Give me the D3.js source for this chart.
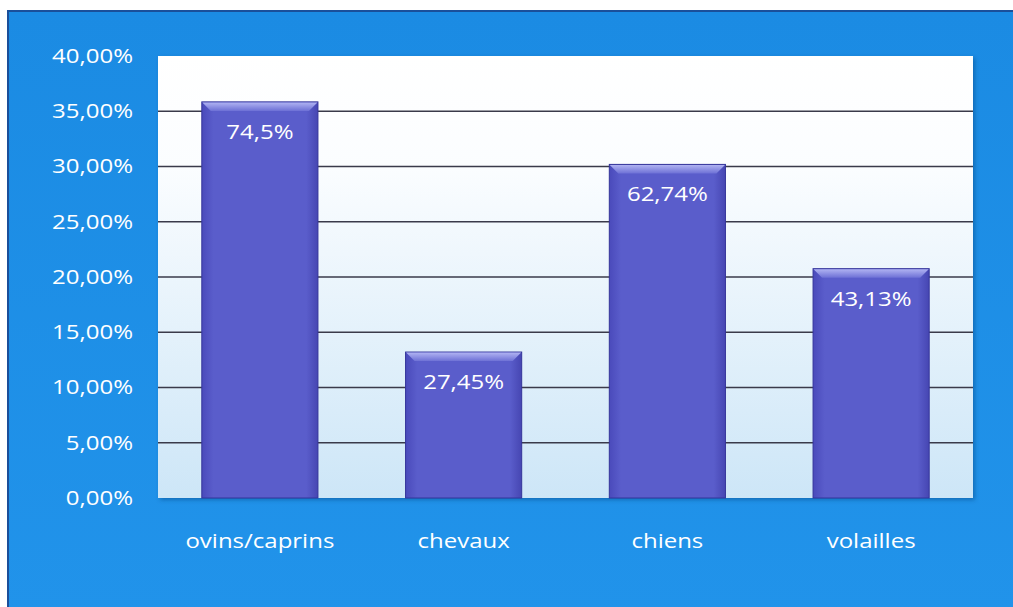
<!DOCTYPE html>
<html>
<head>
<meta charset="utf-8">
<script src="https://cdn.jsdelivr.net/npm/d3@7"></script>
<style>
  html, body { margin: 0; padding: 0; background: #ffffff; }
  svg { display: block; }
</style>
</head>
<body>
<svg id="chart" width="1013" height="607"></svg>
<script>
// Species and the positive rate found in each one
const categories = ["ovins/caprins", "chevaux", "chiens", "volailles"];
const rates = [74.5, 27.45, 62.74, 43.13];
const rateLabels = ["74,5%", "27,45%", "62,74%", "43,13%"];
const yTicks = [0, 5, 10, 15, 20, 25, 30, 35, 40];

// Each bar shows the species' share of the summed rates
const total = d3.sum(rates);
const shares = rates.map(v => v / total * 100);

const W = 1013, H = 607;
const plot = { left: 158, top: 56, right: 973, bottom: 498 };
const FONT = "'Open Sans', Lato, sans-serif";
const FS = 20;       // font size
const SX = 1.2;      // horizontal stretch of the lettering

const svg = d3.select("#chart");
const defs = svg.append("defs");

// Background panel
const bgGrad = defs.append("linearGradient").attr("id", "bg").attr("x1", 0).attr("y1", 0).attr("x2", 0).attr("y2", 1);
bgGrad.append("stop").attr("offset", "0%").attr("stop-color", "#1b8be3");
bgGrad.append("stop").attr("offset", "100%").attr("stop-color", "#2193ea");

const plotGrad = defs.append("linearGradient").attr("id", "plotbg").attr("x1", 0).attr("y1", 0).attr("x2", 0).attr("y2", 1);
plotGrad.append("stop").attr("offset", "0%").attr("stop-color", "#ffffff");
plotGrad.append("stop").attr("offset", "25%").attr("stop-color", "#fbfdff");
plotGrad.append("stop").attr("offset", "100%").attr("stop-color", "#cde6f7");

const barGrad = defs.append("linearGradient").attr("id", "bar").attr("x1", 0).attr("y1", 0).attr("x2", 1).attr("y2", 0);
barGrad.append("stop").attr("offset", "0%").attr("stop-color", "#4a4abb");
barGrad.append("stop").attr("offset", "10%").attr("stop-color", "#5a5dcb");
barGrad.append("stop").attr("offset", "90%").attr("stop-color", "#5a5dcb");
barGrad.append("stop").attr("offset", "100%").attr("stop-color", "#4646b2");

const bevelGrad = defs.append("linearGradient").attr("id", "bevel").attr("x1", 0).attr("y1", 0).attr("x2", 0).attr("y2", 1);
bevelGrad.append("stop").attr("offset", "0%").attr("stop-color", "#b0b3f2");
bevelGrad.append("stop").attr("offset", "100%").attr("stop-color", "#6e71d6");

const shadow = defs.append("filter").attr("id", "shadow").attr("x", "-5%").attr("y", "-5%").attr("width", "115%").attr("height", "115%");
shadow.append("feDropShadow").attr("dx", 2).attr("dy", 2).attr("stdDeviation", 2).attr("flood-color", "#0b3f7a").attr("flood-opacity", 0.45);

svg.append("rect").attr("x", 8).attr("y", 11).attr("width", W).attr("height", H)
  .attr("fill", "url(#bg)").attr("stroke", "#1a4f9a").attr("stroke-width", 2);

// Scales
const x = d3.scaleBand().domain(categories).range([plot.left, plot.right]).paddingInner(0.43).paddingOuter(0.215);
const y = d3.scaleLinear().domain([0, 40]).range([plot.bottom, plot.top]);

// Plot area
svg.append("rect")
  .attr("x", plot.left).attr("y", plot.top)
  .attr("width", plot.right - plot.left).attr("height", plot.bottom - plot.top)
  .attr("fill", "url(#plotbg)").attr("filter", "url(#shadow)");

// Gridlines
svg.append("g")
  .selectAll("line")
  .data(yTicks.filter(t => t > 0 && t < 40))
  .join("line")
  .attr("x1", plot.left).attr("x2", plot.right)
  .attr("y1", d => y(d)).attr("y2", d => y(d))
  .attr("stroke", "#3a3a4a").attr("stroke-width", 1.3);

// Y axis labels
const fmt = v => d3.format(".2f")(v).replace(".", ",") + "%";
const yPad = 25;
const yAxis = d3.axisLeft(y).tickValues(yTicks).tickFormat(fmt).tickSize(0).tickPadding(yPad);
const yg = svg.append("g").attr("transform", `translate(${plot.left},0)`).call(yAxis);
yg.select(".domain").remove();
yg.selectAll("text")
  .attr("x", -yPad / SX)
  .attr("transform", `scale(${SX},1)`)
  .attr("fill", "#ffffff").attr("font-family", FONT).attr("font-size", FS);

// X axis labels
const xAxis = d3.axisBottom(x).tickSize(0).tickPadding(36);
const xg = svg.append("g").attr("transform", `translate(0,${plot.bottom})`).call(xAxis);
xg.select(".domain").remove();
xg.selectAll("text")
  .attr("transform", `scale(${SX},1)`)
  .attr("fill", "#ffffff").attr("font-family", FONT).attr("font-size", FS);

// Bars
const bars = svg.append("g").selectAll("g")
  .data(categories.map((c, i) => ({ c, share: shares[i], label: rateLabels[i] })))
  .join("g");

bars.append("rect")
  .attr("x", d => x(d.c)).attr("y", d => y(d.share))
  .attr("width", x.bandwidth()).attr("height", d => y(0) - y(d.share))
  .attr("fill", "url(#bar)").attr("stroke", "#34349a").attr("stroke-width", 1);

// Bevelled top edge
bars.append("path")
  .attr("d", d => {
    const x0 = x(d.c), x1 = x0 + x.bandwidth(), t = y(d.share), b = 9;
    return `M${x0 + 0.5},${t + 0.5} L${x1 - 0.5},${t + 0.5} L${x1 - b},${t + b} L${x0 + b},${t + b} Z`;
  })
  .attr("fill", "url(#bevel)");

bars.append("text")
  .attr("transform", d => `translate(${x(d.c) + x.bandwidth() / 2},${y(d.share) + 37}) scale(${SX},1)`)
  .attr("text-anchor", "middle")
  .attr("fill", "#ffffff")
  .attr("font-family", FONT)
  .attr("font-size", FS)
  .text(d => d.label);
</script>
</body>
</html>
